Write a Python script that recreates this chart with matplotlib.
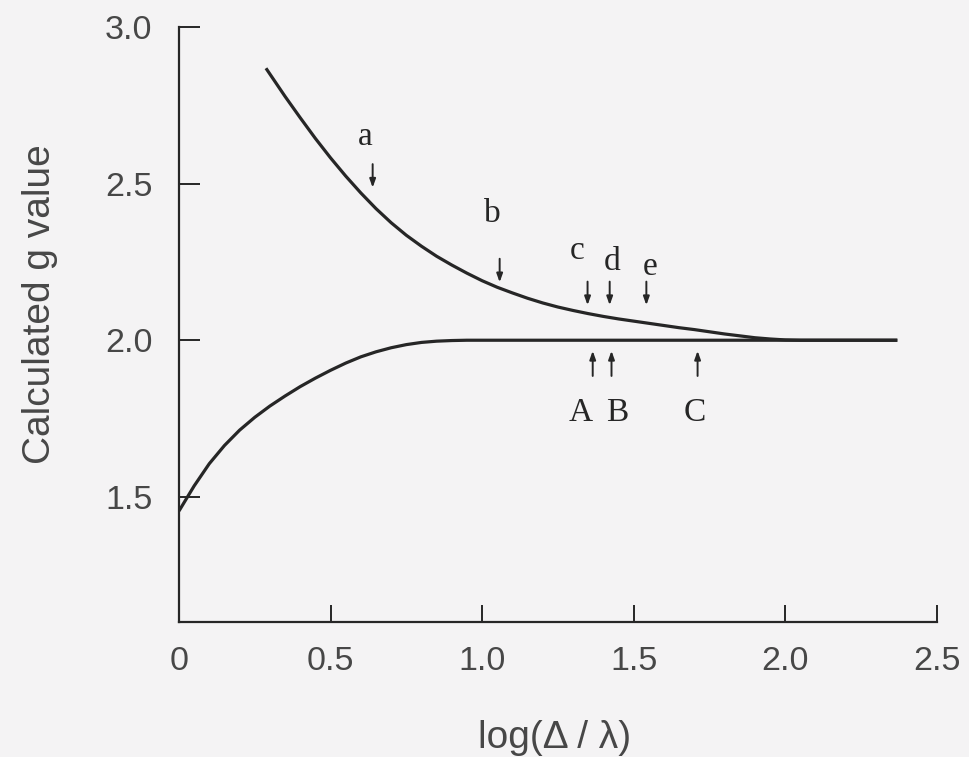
import matplotlib
matplotlib.use("Agg")
import matplotlib.pyplot as plt

# g-value branches versus log(Delta/lambda)
upper_x = [0.287, 0.35, 0.40, 0.45, 0.50, 0.55, 0.60, 0.65, 0.70, 0.75, 0.80,
           0.85, 0.90, 0.95, 1.00, 1.05, 1.10, 1.15, 1.20, 1.25, 1.30, 1.35,
           1.40, 1.45, 1.50, 1.55, 1.60, 1.65, 1.70, 1.75, 1.80, 1.85, 1.90,
           1.95, 2.00, 2.05, 2.37]
upper_g = [2.868, 2.778, 2.710, 2.644, 2.582, 2.524, 2.470, 2.420, 2.375, 2.335,
           2.300, 2.268, 2.240, 2.214, 2.190, 2.169, 2.151, 2.134, 2.119, 2.106,
           2.095, 2.085, 2.076, 2.068, 2.061, 2.054, 2.047, 2.040, 2.034, 2.027,
           2.020, 2.014, 2.008, 2.004, 2.001, 2.000, 2.000]

lower_x = [0.0, 0.05, 0.10, 0.15, 0.20, 0.25, 0.30, 0.35, 0.40, 0.45, 0.50,
           0.55, 0.60, 0.65, 0.70, 0.75, 0.80, 0.85, 0.90, 0.95, 1.00, 2.37]
lower_g = [1.455, 1.535, 1.606, 1.664, 1.713, 1.754, 1.790, 1.822, 1.852, 1.879,
           1.904, 1.927, 1.947, 1.963, 1.976, 1.986, 1.993, 1.997, 1.999, 2.000,
           2.000, 2.000]

# marked positions on each branch
upper_labels = ["a", "b", "c", "d", "e"]
upper_marks = [0.639, 1.058, 1.348, 1.421, 1.542]
lower_labels = ["A", "B", "C"]
lower_marks = [1.365, 1.427, 1.711]

x_ticks = [0, 0.5, 1.0, 1.5, 2.0, 2.5]
x_ticklabels = ["0", "0.5", "1.0", "1.5", "2.0", "2.5"]
y_ticks = [1.5, 2.0, 2.5, 3.0]
y_ticklabels = ["1.5", "2.0", "2.5", "3.0"]

ink = "#262626"
paper = "#f4f3f4"
label_grey = "#474747"
sans = "Liberation Sans"
serif = "Liberation Serif"

fig = plt.figure(figsize=(9.69, 7.57), dpi=100, facecolor=paper)
ax = fig.add_axes([0.1847, 0.178, 0.782, 0.7865])
ax.set_facecolor(paper)

ax.plot(upper_x, upper_g, color=ink, lw=2.3, solid_capstyle="butt")
ax.plot(lower_x, lower_g, color=ink, lw=2.3, solid_capstyle="butt")

ax.set_xlim(0, 2.5)
ax.set_ylim(1.1, 3.0)

for s in ("top", "right"):
    ax.spines[s].set_visible(False)
for s in ("left", "bottom"):
    ax.spines[s].set_color(ink)
    ax.spines[s].set_linewidth(1.6)

ax.set_xticks(x_ticks)
ax.set_xticklabels(x_ticklabels)
ax.set_yticks(y_ticks)
ax.set_yticklabels(y_ticklabels)
ax.tick_params(axis="x", direction="in", length=12, width=1.4, color=ink,
               pad=17, labelsize=24.5, labelcolor=label_grey)
ax.tick_params(axis="y", direction="in", length=15, width=1.4, color=ink,
               pad=19, labelsize=24.5, labelcolor=label_grey)
for lab in ax.get_xticklabels() + ax.get_yticklabels():
    lab.set_fontfamily(sans)

ax.set_ylabel("Calculated g value", fontsize=28, family=sans, color=label_grey)
ax.yaxis.set_label_coords(-0.159, 0.535)
ax.set_xlabel("log(\u0394 / \u03bb)", fontsize=28, family=sans, color=label_grey)
ax.xaxis.set_label_coords(0.496, -0.165)

arrow_kw = dict(arrowstyle="-|>,head_length=0.5,head_width=0.18", color=ink,
                lw=1.4, shrinkA=0, shrinkB=0)

# downward arrows above the upper branch
down_tops = [2.562, 2.260, 2.187, 2.187, 2.187]
down_len = 0.075
label_dy = [0.086, 0.143, 0.099, 0.064, 0.048]
label_dx = [-0.026, -0.023, -0.036, 0.009, 0.014]
for name, xm, top, dy, dx in zip(upper_labels, upper_marks, down_tops, label_dy, label_dx):
    ax.annotate("", xy=(xm, top - down_len), xytext=(xm, top), arrowprops=arrow_kw)
    ax.text(xm + dx, top + dy, name, family=serif, fontsize=24, color=ink,
            ha="center", va="center")

# upward arrows below the lower branch
up_bottom = 1.886
up_len = 0.08
for name, xm, dx in zip(lower_labels, lower_marks, [-0.04, 0.02, -0.01]):
    ax.annotate("", xy=(xm, up_bottom + up_len), xytext=(xm, up_bottom), arrowprops=arrow_kw)
    ax.text(xm + dx, 1.768, name, family=serif, fontsize=24, color=ink,
            ha="center", va="center")

fig.savefig("out.png", dpi=100, facecolor=paper)
